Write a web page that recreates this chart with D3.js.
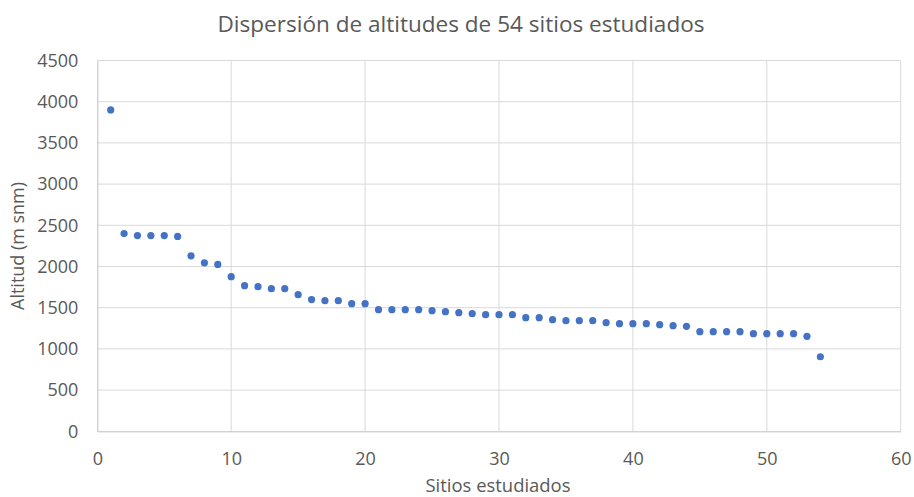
<!DOCTYPE html>
<html><head><meta charset="utf-8">
<script src="https://cdn.jsdelivr.net/npm/d3@7"></script>
<style>body{margin:0;background:#fff}svg{display:block}</style>
</head><body>
<script>
const sites = d3.range(1, 55);
const altitudes = [3900,2400,2375,2375,2375,2365,2130,2045,2025,1877,
  1767,1755,1731,1731,1658,1598,1585,1585,1549,1549,
  1476,1476,1476,1476,1464,1452,1440,1427,1415,1415,
  1415,1379,1379,1355,1343,1343,1343,1318,1306,1306,
  1306,1294,1282,1274,1209,1209,1209,1209,1185,1185,
  1185,1185,1153,905];
const xTicks = [0,10,20,30,40,50,60];
const yTicks = [0,500,1000,1500,2000,2500,3000,3500,4000,4500];
const title = "Dispersión de altitudes de 54 sitios estudiados";
const xTitle = "Sitios estudiados";
const yTitle = "Altitud (m snm)";

const W = 914, H = 497;
const L = 97.3, R = 900.7, T = 60.5, B = 431.3;
const font = "'Open Sans', sans-serif";
const txt = "#595959";

const svg = d3.select("body").append("svg").attr("width", W).attr("height", H);
const x = d3.scaleLinear().domain([0,60]).range([L,R]);
const y = d3.scaleLinear().domain([0,4500]).range([B,T]);

// grid
svg.append("g").selectAll("line").data(yTicks.slice(1)).join("line")
  .attr("x1", L).attr("x2", R).attr("y1", d=>y(d)).attr("y2", d=>y(d))
  .attr("stroke", "#d9d9d9").attr("stroke-width", 1);
svg.append("g").selectAll("line").data(xTicks.slice(1)).join("line")
  .attr("y1", T).attr("y2", B).attr("x1", d=>x(d)).attr("x2", d=>x(d))
  .attr("stroke", "#d9d9d9").attr("stroke-width", 1);

// axes
const xa = svg.append("g").attr("transform", `translate(0,${B})`)
  .call(d3.axisBottom(x).tickValues(xTicks).tickFormat(d3.format("d")).tickSize(0).tickPadding(21));
const ya = svg.append("g").attr("transform", `translate(${L},0)`)
  .call(d3.axisLeft(y).tickValues(yTicks).tickFormat(d3.format("d")).tickSize(0).tickPadding(19));
[xa, ya].forEach(a => {
  a.select(".domain").attr("stroke", "#bfbfbf").attr("stroke-width", 1);
  a.selectAll("text").attr("fill", txt).style("font-family", font).style("font-size", "18px");
});

// points
svg.append("g").selectAll("circle").data(sites).join("circle")
  .attr("cx", (d,i)=>x(d)).attr("cy", (d,i)=>y(altitudes[i])).attr("r", 3.6)
  .attr("fill", "#4472c4");

function fit(sel, target){
  const w = sel.node().getComputedTextLength();
  const fs = parseFloat(sel.style("font-size"));
  sel.style("font-size", (fs*target/w).toFixed(2)+"px");
}
const t = svg.append("text").attr("x", 461).attr("y", 32).attr("text-anchor","middle")
  .attr("fill", txt).style("font-family", font).style("font-size","20px").text(title);
fit(t, 487);
const xt = svg.append("text").attr("x", 498).attr("y", 492).attr("text-anchor","middle")
  .attr("fill", txt).style("font-family", font).style("font-size","16px").text(xTitle);
fit(xt, 145);
const yt = svg.append("text").attr("transform", `translate(24,246) rotate(-90)`).attr("text-anchor","middle")
  .attr("fill", txt).style("font-family", font).style("font-size","16px").text(yTitle);
fit(yt, 128);
</script>
</body></html>
